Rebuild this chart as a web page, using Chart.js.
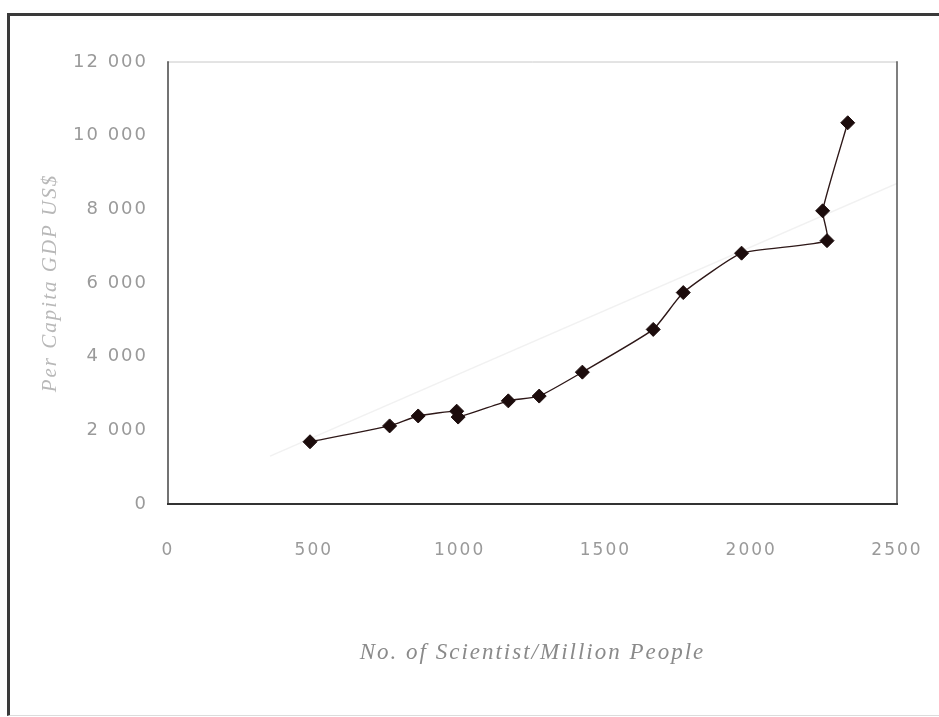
<!DOCTYPE html>
<html>
<head>
<meta charset="utf-8">
<title>Per Capita GDP vs. Scientists per Million People</title>
<script src="https://cdn.jsdelivr.net/npm/chart.js@4/dist/chart.umd.min.js"></script>
<style>
  html, body { margin: 0; padding: 0; background: #ffffff; }
  #wrap { position: relative; width: 939px; height: 717px; overflow: hidden; }
  #chart { position: absolute; left: 0; top: 0; }
  #frame {
    position: absolute; left: 7px; top: 13px; width: 940px; height: 699px;
    border-top: 3px solid #3a3a3a; border-left: 3px solid #3a3a3a;
    border-bottom: 1px solid #dcdcdc; pointer-events: none;
  }
</style>
</head>
<body>
<div id="wrap">
  <canvas id="chart" width="939" height="717"></canvas>
  <div id="frame"></div>
</div>
<script>
// Scientists per million people (x) and per capita GDP in US$ (y)
const scientists = [487, 760, 858, 990, 995, 1167, 1273, 1421, 1664, 1767, 1967, 2260, 2245, 2331];
const gdp        = [1690, 2120, 2390, 2520, 2360, 2800, 2930, 3580, 4740, 5740, 6810, 7150, 7960, 10350];

// Faint linear trend drawn behind the series
const trendX = [350, 2500];
const trendY = [1300, 8700];

// Axis ticks
const xTicks = [0, 500, 1000, 1500, 2000, 2500];
const yTicks = [0, 2000, 4000, 6000, 8000, 10000, 12000];

const xTitle = 'No. of Scientist/Million People';
const yTitle = 'Per Capita GDP US$';

const toPoints = (xs, ys) => xs.map((x, i) => ({ x: x, y: ys[i] }));
const spaced = v => String(v).replace(/\B(?=(\d{3})+(?!\d))/g, ' ');

// Box around the plotting area
const plotFrame = {
  id: 'plotFrame',
  beforeDraw(chart) {
    chart.ctx.letterSpacing = '2px';
  },
  afterDraw(chart) {
    const { ctx, chartArea: a } = chart;
    ctx.save();
    ctx.lineCap = 'square';
    ctx.strokeStyle = '#c8c8c8'; ctx.lineWidth = 1;
    ctx.beginPath(); ctx.moveTo(a.left, a.top); ctx.lineTo(a.right, a.top); ctx.stroke();
    ctx.strokeStyle = '#555555'; ctx.lineWidth = 1.5;
    ctx.beginPath(); ctx.moveTo(a.right, a.top); ctx.lineTo(a.right, a.bottom); ctx.stroke();
    ctx.strokeStyle = '#444444'; ctx.lineWidth = 1.5;
    ctx.beginPath(); ctx.moveTo(a.left, a.top); ctx.lineTo(a.left, a.bottom); ctx.stroke();
    ctx.strokeStyle = '#333333'; ctx.lineWidth = 2;
    ctx.beginPath(); ctx.moveTo(a.left, a.bottom); ctx.lineTo(a.right, a.bottom); ctx.stroke();
    ctx.restore();
  }
};

new Chart(document.getElementById('chart'), {
  type: 'scatter',
  data: {
    datasets: [
      {
        label: 'Trend',
        data: toPoints(trendX, trendY),
        showLine: true,
        borderColor: 'rgba(225,225,225,0.45)',
        borderWidth: 1.5,
        pointRadius: 0,
        order: 2
      },
      {
        label: 'Per Capita GDP',
        data: toPoints(scientists, gdp),
        showLine: true,
        tension: 0.15,
        borderColor: '#2e1818',
        borderWidth: 1.4,
        pointStyle: 'rectRot',
        pointRadius: 7,
        pointBackgroundColor: '#1c0c0c',
        pointBorderColor: '#1c0c0c',
        pointBorderWidth: 1,
        order: 1
      }
    ]
  },
  options: {
    responsive: false,
    animation: false,
    layout: { padding: { top: 62, right: 42, bottom: 50, left: 20 } },
    plugins: {
      legend: { display: false },
      tooltip: { enabled: false }
    },
    scales: {
      x: {
        type: 'linear',
        min: 0, max: 2500,
        afterBuildTicks(scale) { scale.ticks = xTicks.map(v => ({ value: v })); },
        afterFit(scale) {
          scale.height = 163;
          scale.paddingRight = 0;
          scale.paddingLeft = 0;
        },
        grid: { display: false, drawTicks: false },
        border: { display: false },
        ticks: {
          padding: 36,
          color: '#9a9a9a',
          font: { family: 'DejaVu Sans', size: 17 },
          maxRotation: 0,
          callback: v => String(v)
        },
        title: {
          display: true,
          text: xTitle,
          color: '#8a8a8a',
          padding: { top: 0, bottom: 0 },
          font: { family: 'Liberation Serif', size: 23, style: 'italic' }
        }
      },
      y: {
        type: 'linear',
        min: 0, max: 12000,
        afterBuildTicks(scale) { scale.ticks = yTicks.map(v => ({ value: v })); },
        afterFit(scale) { scale.width = 148; },
        grid: { display: false, drawTicks: false },
        border: { display: false },
        ticks: {
          padding: 20,
          color: '#9a9a9a',
          font: { family: 'DejaVu Sans', size: 18 },
          callback: v => spaced(v)
        },
        title: {
          display: true,
          text: yTitle,
          color: '#b8b8b8',
          padding: { top: 18, bottom: 0 },
          font: { family: 'Liberation Serif', size: 21, style: 'italic' }
        }
      }
    }
  },
  plugins: [plotFrame]
});
</script>
</body>
</html>
